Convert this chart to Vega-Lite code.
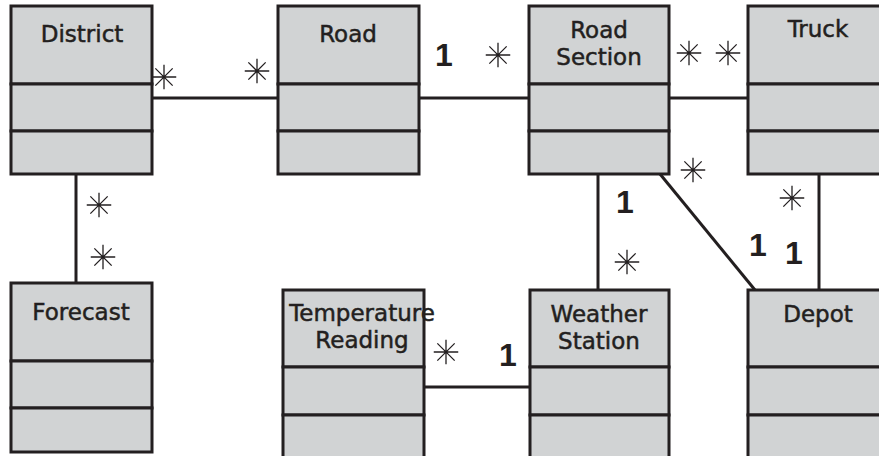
{
  "$schema": "https://vega.github.io/schema/vega-lite/v6.json",
  "width": 879,
  "height": 456,
  "autosize": {"type": "none"},
  "padding": 0,
  "background": "white",
  "config": {"view": {"stroke": null}},
  "datasets": {
    "compartments": [
      {"cls": "District", "part": "name", "x1": 11, "x2": 152, "y1": 6, "y2": 84},
      {"cls": "District", "part": "attr", "x1": 11, "x2": 152, "y1": 84, "y2": 131},
      {"cls": "District", "part": "ops", "x1": 11, "x2": 152, "y1": 131, "y2": 174},
      {"cls": "Road", "part": "name", "x1": 278, "x2": 419, "y1": 6, "y2": 84},
      {"cls": "Road", "part": "attr", "x1": 278, "x2": 419, "y1": 84, "y2": 131},
      {"cls": "Road", "part": "ops", "x1": 278, "x2": 419, "y1": 131, "y2": 174},
      {"cls": "Road Section", "part": "name", "x1": 529, "x2": 669, "y1": 6, "y2": 84},
      {"cls": "Road Section", "part": "attr", "x1": 529, "x2": 669, "y1": 84, "y2": 131},
      {"cls": "Road Section", "part": "ops", "x1": 529, "x2": 669, "y1": 131, "y2": 174},
      {"cls": "Truck", "part": "name", "x1": 748, "x2": 890, "y1": 6, "y2": 84},
      {"cls": "Truck", "part": "attr", "x1": 748, "x2": 890, "y1": 84, "y2": 131},
      {"cls": "Truck", "part": "ops", "x1": 748, "x2": 890, "y1": 131, "y2": 174},
      {"cls": "Forecast", "part": "name", "x1": 11, "x2": 152, "y1": 283, "y2": 361},
      {"cls": "Forecast", "part": "attr", "x1": 11, "x2": 152, "y1": 361, "y2": 408},
      {"cls": "Forecast", "part": "ops", "x1": 11, "x2": 152, "y1": 408, "y2": 452},
      {"cls": "Temperature Reading", "part": "name", "x1": 283, "x2": 424, "y1": 290, "y2": 367},
      {"cls": "Temperature Reading", "part": "attr", "x1": 283, "x2": 424, "y1": 367, "y2": 415},
      {"cls": "Temperature Reading", "part": "ops", "x1": 283, "x2": 424, "y1": 415, "y2": 475},
      {"cls": "Weather Station", "part": "name", "x1": 530, "x2": 669, "y1": 290, "y2": 367},
      {"cls": "Weather Station", "part": "attr", "x1": 530, "x2": 669, "y1": 367, "y2": 415},
      {"cls": "Weather Station", "part": "ops", "x1": 530, "x2": 669, "y1": 415, "y2": 475},
      {"cls": "Depot", "part": "name", "x1": 748, "x2": 890, "y1": 290, "y2": 367},
      {"cls": "Depot", "part": "attr", "x1": 748, "x2": 890, "y1": 367, "y2": 415},
      {"cls": "Depot", "part": "ops", "x1": 748, "x2": 890, "y1": 415, "y2": 475}
    ],
    "edges": [
      {"from": "District", "to": "Road", "x1": 152, "y1": 98, "x2": 278, "y2": 98},
      {"from": "Road", "to": "Road Section", "x1": 419, "y1": 98, "x2": 529, "y2": 98},
      {"from": "Road Section", "to": "Truck", "x1": 669, "y1": 98, "x2": 748, "y2": 98},
      {"from": "District", "to": "Forecast", "x1": 76, "y1": 174, "x2": 76, "y2": 283},
      {"from": "Road Section", "to": "Weather Station", "x1": 598, "y1": 174, "x2": 598, "y2": 290},
      {"from": "Road Section", "to": "Depot", "x1": 660, "y1": 174, "x2": 755, "y2": 290},
      {"from": "Truck", "to": "Depot", "x1": 819, "y1": 174, "x2": 819, "y2": 290},
      {"from": "Temperature Reading", "to": "Weather Station", "x1": 424, "y1": 387, "x2": 530, "y2": 387}
    ],
    "many": [
      {"x": 164, "y": 77},
      {"x": 257, "y": 71},
      {"x": 498, "y": 55},
      {"x": 689, "y": 53},
      {"x": 728, "y": 53},
      {"x": 693, "y": 170},
      {"x": 792, "y": 198},
      {"x": 99, "y": 205},
      {"x": 103, "y": 257},
      {"x": 627, "y": 262},
      {"x": 446, "y": 352}
    ],
    "one": [
      {"x": 444, "y": 66, "t": "1"},
      {"x": 625, "y": 213, "t": "1"},
      {"x": 758, "y": 256, "t": "1"},
      {"x": 794, "y": 264, "t": "1"},
      {"x": 508, "y": 366, "t": "1"}
    ],
    "names": [
      {"x": 82, "y": 42, "t": "District"},
      {"x": 348, "y": 42, "t": "Road"},
      {"x": 599, "y": 38, "t": "Road"},
      {"x": 599, "y": 65, "t": "Section"},
      {"x": 818, "y": 37, "t": "Truck"},
      {"x": 81, "y": 320, "t": "Forecast"},
      {"x": 362, "y": 321, "t": "Temperature"},
      {"x": 362, "y": 348, "t": "Reading"},
      {"x": 599, "y": 322, "t": "Weather"},
      {"x": 599, "y": 349, "t": "Station"},
      {"x": 818, "y": 322, "t": "Depot"}
    ]
  },
  "layer": [
    {
      "data": {"name": "compartments"},
      "mark": {"type": "rect", "fill": "#d1d3d4", "stroke": "#231f20", "strokeWidth": 3, "clip": true},
      "encoding": {
        "x": {"field": "x1", "type": "quantitative", "scale": {"domain": [0, 879], "nice": false, "zero": false}, "axis": null},
        "x2": {"field": "x2"},
        "y": {"field": "y1", "type": "quantitative", "scale": {"domain": [0, 456], "nice": false, "zero": false, "reverse": true}, "axis": null},
        "y2": {"field": "y2"}
      }
    },
    {
      "data": {"name": "edges"},
      "mark": {"type": "rule", "stroke": "#231f20", "strokeWidth": 3, "clip": true},
      "encoding": {
        "x": {"field": "x1", "type": "quantitative"},
        "x2": {"field": "x2"},
        "y": {"field": "y1", "type": "quantitative"},
        "y2": {"field": "y2"}
      }
    },
    {
      "data": {"name": "many"},
      "mark": {"type": "point", "filled": false, "stroke": "#231f20", "strokeWidth": 1.3, "opacity": 1, "size": 600,
        "shape": "M-1,0L1,0M0,-1L0,1M-0.707,-0.707L0.707,0.707M-0.707,0.707L0.707,-0.707"},
      "encoding": {
        "x": {"field": "x", "type": "quantitative"},
        "y": {"field": "y", "type": "quantitative"}
      }
    },
    {
      "data": {"name": "one"},
      "mark": {"type": "text", "font": "Liberation Sans", "fontSize": 32, "fontWeight": "bold", "fill": "#231f20", "align": "center", "baseline": "alphabetic"},
      "encoding": {
        "x": {"field": "x", "type": "quantitative"},
        "y": {"field": "y", "type": "quantitative"},
        "text": {"field": "t"}
      }
    },
    {
      "data": {"name": "names"},
      "mark": {"type": "text", "font": "DejaVu Sans", "fontSize": 23, "fill": "#231f20", "stroke": "#231f20", "strokeWidth": 0.5, "align": "center", "baseline": "alphabetic"},
      "encoding": {
        "x": {"field": "x", "type": "quantitative"},
        "y": {"field": "y", "type": "quantitative"},
        "text": {"field": "t"}
      }
    }
  ]
}
